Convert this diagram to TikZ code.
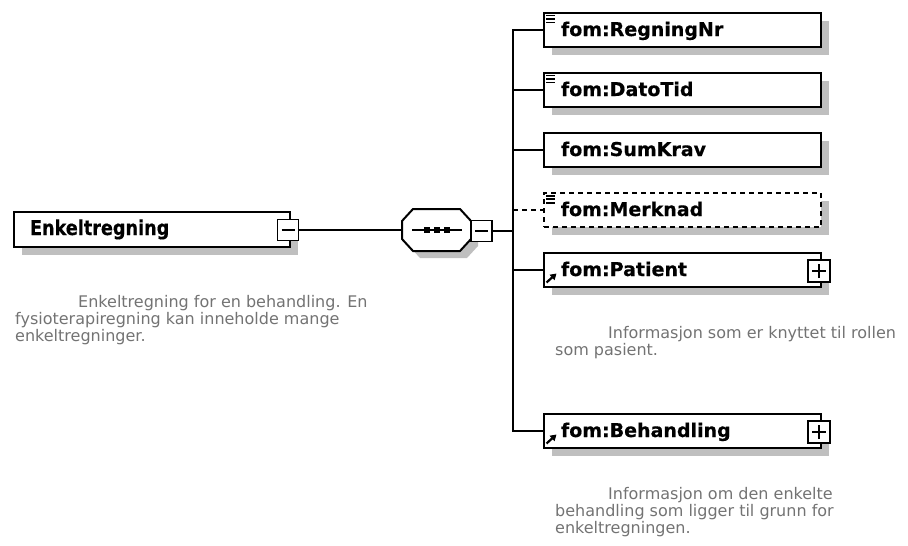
\documentclass[tikz,border=0pt]{standalone}
\usepackage{fontspec}
\setmainfont{DejaVu Sans}
\newfontfamily\labelfont{DejaVu Sans}[FakeBold=0.5]
\newfontfamily\rootfont{DejaVu Sans}[FakeStretch=0.86,FakeBold=0.5]
\usetikzlibrary{shadows,arrows.meta}
\definecolor{shadowgray}{gray}{0.75}
\definecolor{notegray}{gray}{0.45}

\begin{document}
\begin{tikzpicture}[x=1pt,y=-1pt,
  conn/.style={line width=2},
  shade8/.style={drop shadow={shadow xshift=8pt, shadow yshift=-8pt, fill=shadowgray, opacity=1}},
  elbox/.style={draw, line width=2, fill=white, shade8, anchor=west,
    minimum height=34, text width=243, inner xsep=17, inner ysep=0,
    text height=15, text depth=3, align=left,
    font=\labelfont\bfseries\fontsize{19}{22}\selectfont},
  optbox/.style={elbox, dash pattern=on 5pt off 4pt, line width=1.6},
  toggle/.style={draw, line width=1.6, fill=white, minimum size=21, inner sep=0},
  minus/.style={toggle, path picture={
    \draw[line width=1.8] ([xshift=4pt]path picture bounding box.west)
      -- ([xshift=-4pt]path picture bounding box.east);}},
  plus/.style={toggle, minimum size=22, path picture={
    \draw[line width=1.8] ([xshift=4pt]path picture bounding box.west)
      -- ([xshift=-4pt]path picture bounding box.east);
    \draw[line width=1.8] ([yshift=4pt]path picture bounding box.south)
      -- ([yshift=-4pt]path picture bounding box.north);}},
  dot/.style={fill=black, minimum size=6, inner sep=0},
  note/.style={anchor=base west, inner sep=0, text=notegray,
    font=\fontsize{16}{17}\selectfont},
  valueicon/.style={line width=1.6},
  refarrow/.style={line width=2.2, -{Triangle[length=6pt,width=7pt]}},
]
\useasboundingbox (0,0) rectangle (908,546);

% root element
\node[elbox, text width=244, inner xsep=16, minimum height=35,
      text height=15, text depth=4,
      font=\rootfont\bfseries\fontsize{20.5}{24}\selectfont]
  (root) at (13,229.5) {Enkeltregning};
\node[minus] (roottoggle) at (288,230) {};

% sequence compositor: octagon with its shadow
\begin{scope}[shift={(7,7)}]
  \fill[shadowgray] (413,209) -- (460,209) -- (471,221) -- (471,239)
    -- (460,251) -- (413,251) -- (402,239) -- (402,221) -- cycle;
\end{scope}
\draw[line width=2, fill=white] (413,209) -- (460,209) -- (471,221) -- (471,239)
    -- (460,251) -- (413,251) -- (402,239) -- (402,221) -- cycle;
\node[inner sep=0, minimum width=69, minimum height=42] (seq) at (436.5,230) {};
\draw[line width=1.8] ([xshift=-24.5pt]seq.center) -- ([xshift=25.5pt]seq.center);
\node[dot] (seqdot1) at ([xshift=-10pt]seq.center) {};
\node[dot] (seqdot2) at (seq.center) {};
\node[dot] (seqdot3) at ([xshift=10pt]seq.center) {};
\node[minus] (seqtoggle) at (481.5,231) {};

% child elements
\node[elbox] (regningnr) at (543,30) {fom:RegningNr};
\node[elbox] (datotid) at (543,90) {fom:DatoTid};
\node[elbox] (sumkrav) at (543,150) {fom:SumKrav};
\node[optbox] (merknad) at (543,210) {fom:Merknad};
\node[elbox] (patient) at (543,270) {fom:Patient};
\node[plus] (patienttoggle) at (819,271) {};
\node[elbox] (behandling) at (543,431) {fom:Behandling};
\node[plus] (behandlingtoggle) at (819,432) {};

% connectors
\coordinate (bus) at (513,231);
\draw[conn] (roottoggle.east) -- (seq.west);
\draw[conn] (seqtoggle.east) -- (bus);
\foreach \c in {regningnr,datotid,sumkrav,patient,behandling}
  \draw[conn] (bus) |- (\c.west);
\draw[conn, line width=1.6, dash pattern=on 5pt off 4pt] (bus |- merknad.west) -- (merknad.west);

% simple-content icons
\foreach \c in {regningnr,datotid,merknad}
  \foreach \k in {3.5,7,10.5}
    \draw[valueicon] ([xshift=3pt,yshift=-\k pt]\c.north west) -- ++(9,0);

% reference icons
\foreach \c in {patient,behandling}
  \draw[refarrow] ([xshift=3.5pt,yshift=5.5pt]\c.south west) -- ++(10,-9);

% annotations
\node[note] (rootnote1) at (78,307) {Enkeltregning for en behandling. En};
\node[note] (rootnote2) at (15,324) {fysioterapiregning kan inneholde mange};
\node[note] (rootnote3) at (15,341) {enkeltregninger.};

\node[note] (patientnote1) at (608,338) {Informasjon som er knyttet til rollen};
\node[note] (patientnote2) at (555,355) {som pasient.};

\node[note] (behandlingnote1) at (608,499) {Informasjon om den enkelte};
\node[note] (behandlingnote2) at (555,516) {behandling som ligger til grunn for};
\node[note] (behandlingnote3) at (555,533) {enkeltregningen.};
\end{tikzpicture}
\end{document}
